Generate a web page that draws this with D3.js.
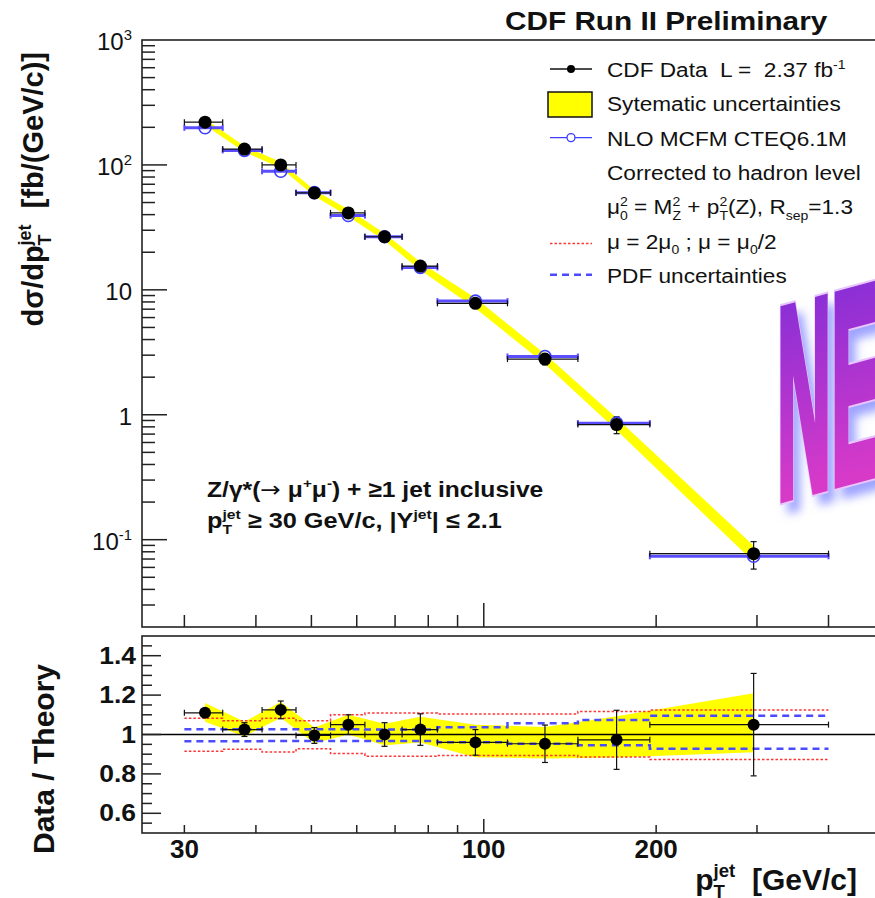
<!DOCTYPE html>
<html>
<head>
<meta charset="utf-8">
<script src="https://cdn.jsdelivr.net/npm/d3@7"></script>
<style>
body { margin: 0; background: #fff; }
svg { display: block; font-family: "Liberation Sans", Arial, Helvetica, sans-serif; }
text { white-space: pre; }
</style>
</head>
<body>
<script>
var W = 875, H = 898;

// jet pT bins [GeV/c] and the mean pT of each bin
var binEdges = [30, 35, 41, 47, 54, 62, 72, 83, 110, 146, 195, 400];
var ptCenter = [32.6, 38.2, 44.2, 50.6, 58.0, 67.1, 77.5, 96.7, 127.9, 170.6, 296];

// measured cross section dsigma/dpT [fb/(GeV/c)]
var xsec = [220, 134, 100, 59.7, 41.3, 26.6, 15.5, 7.8, 2.79, 0.834, 0.0773];

// data / theory and its statistical error
var ratio     = [1.11, 1.025, 1.125, 0.995, 1.05, 1.0, 1.025, 0.96, 0.953, 0.973, 1.05];
var ratioStat = [0.02, 0.035, 0.045, 0.04, 0.05, 0.06, 0.08, 0.065, 0.095, 0.15, 0.26];

// systematic band (absolute, in ratio units)
var sysUp = [0.05, 0.04, 0.04, 0.04, 0.05, 0.055, 0.065, 0.09, 0.085, 0.12, 0.16];
var sysDn = [0.045, 0.035, 0.04, 0.04, 0.05, 0.055, 0.065, 0.075, 0.075, 0.09, 0.14];
var lumiUnc = 0.04;

// theory uncertainties relative to NLO
var scaleUp = [1.082, 1.07, 1.082, 1.07, 1.10, 1.109, 1.109, 1.104, 1.104, 1.117, 1.124];
var scaleDn = [0.915, 0.925, 0.911, 0.928, 0.903, 0.889, 0.889, 0.894, 0.894, 0.886, 0.873];
var pdfUp   = [1.027, 1.027, 1.027, 1.027, 1.027, 1.025, 1.025, 1.037, 1.057, 1.074, 1.095];
var pdfDn   = [0.966, 0.966, 0.967, 0.967, 0.967, 0.967, 0.967, 0.961, 0.953, 0.945, 0.928];

var xLabelTicks = [30, 100, 200];
var yMainTicks = [0.1, 1, 10, 100, 1000];
var yMainLabels = [['10', {sup: '-1'}], ['1'], ['10'], ['10', {sup: '2'}], ['10', {sup: '3'}]];
var yRatioTicks = [0.6, 0.8, 1, 1.2, 1.4];
var yRatioLabels = ['0.6', '0.8', '1', '1.2', '1.4'];

var legendRows = [
    ['CDF Data  L =  2.37 fb', {sup: '-1'}],
    ['Sytematic uncertainties'],
    ['NLO MCFM CTEQ6.1M'],
    ['Corrected to hadron level'],
    ['\u03bc', {sub: '0', sup: '2'}, ' = M', {sub: 'Z', sup: '2'}, ' + p', {sub: 'T', sup: '2'}, '(Z), R', {sub: 'sep'}, '=1.3'],
    ['\u03bc = 2\u03bc', {sub: '0'}, ' ; \u03bc = \u03bc', {sub: '0'}, '/2'],
    ['PDF uncertainties']
];

var BLUE = '#3d3dff', RED = '#ff3535', INK = '#111';

var svg = d3.select('body').append('svg')
    .attr('width', W)
    .attr('height', H);

var x  = d3.scaleLog().domain([25.3, 500]).range([142, 884]);
var y  = d3.scaleLog().domain([0.02, 1000]).range([627, 40]);
var yr = d3.scaleLinear().domain([0.5, 1.5]).range([833, 636]);

var rows = ptCenter.map(function(pt, i){
    var tot = Math.sqrt(Math.pow(sysUp[i] / ratio[i], 2) + lumiUnc * lumiUnc);
    var totDn = Math.sqrt(Math.pow(sysDn[i] / ratio[i], 2) + lumiUnc * lumiUnc);
    return {
        pt: pt, lo: binEdges[i], hi: binEdges[i + 1],
        data: xsec[i], theory: xsec[i] / ratio[i],
        err: xsec[i] * ratioStat[i] / ratio[i],
        r: ratio[i], rErr: ratioStat[i],
        bandHi: xsec[i] * (1 + tot), bandLo: xsec[i] * (1 - totDn),
        rHi: ratio[i] + sysUp[i], rLo: ratio[i] - sysDn[i]
    };
});

// text with sub/superscripts; {t, font} pieces switch font family
function rich(t, parts, fs){
    var shift = 0, pad = 0;
    parts.forEach(function(p){
        if (typeof p === 'string' || p.t) {
            var s0 = t.append('tspan').attr('dx', pad).attr('dy', -shift).text(p.t || p);
            if (p.font) s0.attr('font-family', p.font).attr('font-weight', 'normal');
            shift = 0; pad = 0;
            return;
        }
        var sw = 0, pw = 0, s = 0.62 * fs;
        if (p.sub) {
            var a = t.append('tspan').attr('dx', pad).attr('dy', 0.28 * fs - shift)
                .attr('font-size', s).text(p.sub);
            shift = 0.28 * fs; pad = 0;
            sw = a.node().getComputedTextLength();
        }
        if (p.sup) {
            var b = t.append('tspan').attr('dx', pad - sw).attr('dy', -0.42 * fs - shift)
                .attr('font-size', s).text(p.sup);
            shift = -0.42 * fs; pad = 0;
            pw = b.node().getComputedTextLength();
        }
        if (p.sub && p.sup && sw > pw) pad = sw - pw;
    });
}

function label(g, px, py, parts, o){
    o = o || {};
    var fs = o.size || 20;
    var tr = 'translate(' + px + ',' + py + ')';
    if (o.rotate) tr += ' rotate(' + o.rotate + ')';
    if (o.sx) tr += ' scale(' + o.sx + ',1)';
    var t = g.append('text')
        .attr('transform', tr)
        .attr('font-size', fs)
        .attr('font-weight', o.bold ? 'bold' : 'normal')
        .attr('text-anchor', o.anchor || 'start')
        .attr('fill', INK);
    rich(t, parts, fs);
    return t;
}

function seg(g, x1, y1, x2, y2, col, w){
    g.append('line')
        .attr('x1', x1).attr('y1', y1).attr('x2', x2).attr('y2', y2)
        .attr('stroke', col).attr('stroke-width', w);
}

// ---------- "NEW" sticker ----------
var defs = svg.append('defs');
var grad = defs.append('linearGradient').attr('id', 'newGrad')
    .attr('gradientUnits', 'userSpaceOnUse')
    .attr('x1', 0).attr('y1', -72).attr('x2', 0).attr('y2', 0);
grad.append('stop').attr('offset', '0%').attr('stop-color', '#8a2fd6');
grad.append('stop').attr('offset', '100%').attr('stop-color', '#d83ac8');
defs.append('filter').attr('id', 'soft')
    .attr('x', '-30%').attr('y', '-30%').attr('width', '160%').attr('height', '160%')
    .append('feGaussianBlur').attr('stdDeviation', 5);

var stickerTr = 'translate(777,499) skewY(-15) scale(0.75,2.71)';
function sticker(g, fill, stroke, sw, op){
    g.append('text').attr('font-size', 100).attr('font-weight', 'bold')
        .attr('fill', fill).attr('opacity', op || 1)
        .attr('stroke', stroke).attr('stroke-width', sw)
        .attr('stroke-linejoin', 'miter')
        .attr('vector-effect', 'non-scaling-stroke')
        .text('NEW');
}
sticker(svg.append('g').attr('transform', 'translate(7,10)').attr('filter', 'url(#soft)')
    .append('g').attr('transform', stickerTr), '#7f86ff', '#7f86ff', 9, 0.75);
var stk = svg.append('g').attr('transform', stickerTr);
sticker(stk, '#e9c6ff', '#e9c6ff', 11);
sticker(stk, 'url(#newGrad)', 'url(#newGrad)', 8);

// ---------- upper panel ----------
var upper = svg.append('g');

upper.append('path')
    .datum(rows)
    .attr('fill', '#ffff00')
    .attr('d', d3.area()
        .x(function(d){ return x(d.pt); })
        .y0(function(d){ return y(d.bandLo); })
        .y1(function(d){ return y(d.bandHi); }));

// theory horizontal bars
rows.forEach(function(d){
    var yy = y(d.theory);
    seg(upper, x(d.lo), yy, x(d.hi), yy, '#5a4cff', 3);
    seg(upper, x(d.lo), yy - 3, x(d.lo), yy + 3, '#5a4cff', 2);
    seg(upper, x(d.hi), yy - 3, x(d.hi), yy + 3, '#5a4cff', 2);
});
// data error bars
rows.forEach(function(d){
    var yy = y(d.data), xx = x(d.pt);
    seg(upper, x(d.lo), yy, x(d.hi), yy, INK, 1.2);
    seg(upper, x(d.lo), yy - 3, x(d.lo), yy + 3, INK, 1.2);
    seg(upper, x(d.hi), yy - 3, x(d.hi), yy + 3, INK, 1.2);
    var y1 = y(d.data + d.err), y2 = y(d.data - d.err);
    seg(upper, xx, y1, xx, y2, INK, 1.2);
    seg(upper, xx - 3, y1, xx + 3, y1, INK, 1.2);
    seg(upper, xx - 3, y2, xx + 3, y2, INK, 1.2);
});
upper.selectAll('circle.theory')
    .data(rows)
    .enter()
    .append('circle')
        .attr('class', 'theory')
        .attr('cx', function(d){ return x(d.pt); })
        .attr('cy', function(d){ return y(d.theory); })
        .attr('r', 6)
        .attr('fill', 'none')
        .attr('stroke', BLUE)
        .attr('stroke-width', 1.6);
upper.selectAll('circle.data')
    .data(rows)
    .enter()
    .append('circle')
        .attr('class', 'data')
        .attr('cx', function(d){ return x(d.pt); })
        .attr('cy', function(d){ return y(d.data); })
        .attr('r', 6.5)
        .attr('fill', '#000');

// frame + ticks
upper.append('rect')
    .attr('x', 142).attr('y', 40).attr('width', 884 - 142).attr('height', 627 - 40)
    .attr('fill', 'none').attr('stroke', '#222').attr('stroke-width', 1.6);

y.ticks().forEach(function(v){
    var major = yMainTicks.indexOf(v) >= 0;
    var yy = y(v);
    if (yy < 41 || yy > 626) return;
    seg(upper, 142, yy, 142 + (major ? 25 : 13), yy, '#222', 1.5);
});
yMainTicks.forEach(function(v, i){
    label(upper, 132, y(v) + 10, yMainLabels[i], {size: 24, anchor: 'end'});
});
x.ticks().forEach(function(v){
    var xx = x(v);
    if (xx > 880) return;
    var major = (v === 100);
    seg(upper, xx, 627, xx, 627 - (major ? 24 : 12), '#222', 1.5);
});

// ---------- ratio panel ----------
var lower = svg.append('g');

lower.append('path')
    .datum(rows)
    .attr('fill', '#ffff00')
    .attr('d', d3.area()
        .x(function(d){ return x(d.pt); })
        .y0(function(d){ return yr(d.rLo); })
        .y1(function(d){ return yr(d.rHi); }));

function steps(vals){
    var pts = vals.map(function(v, i){ return [binEdges[i], v]; });
    pts.push([binEdges[binEdges.length - 1], vals[vals.length - 1]]);
    return d3.line()
        .x(function(p){ return x(p[0]); })
        .y(function(p){ return yr(p[1]); })
        .curve(d3.curveStepAfter)(pts);
}
[scaleUp, scaleDn].forEach(function(v){
    lower.append('path').attr('d', steps(v))
        .attr('fill', 'none').attr('stroke', RED)
        .attr('stroke-width', 1.5).attr('stroke-dasharray', '2.5,2');
});
[pdfUp, pdfDn].forEach(function(v){
    lower.append('path').attr('d', steps(v))
        .attr('fill', 'none').attr('stroke', '#4b4bff')
        .attr('stroke-width', 2.5).attr('stroke-dasharray', '7,5');
});

seg(lower, 142, yr(1), 884, yr(1), '#000', 1.3);

rows.forEach(function(d){
    var yy = yr(d.r), xx = x(d.pt);
    seg(lower, x(d.lo), yy, x(d.hi), yy, INK, 1.2);
    seg(lower, x(d.lo), yy - 3, x(d.lo), yy + 3, INK, 1.2);
    seg(lower, x(d.hi), yy - 3, x(d.hi), yy + 3, INK, 1.2);
    var y1 = yr(d.r + d.rErr), y2 = yr(d.r - d.rErr);
    seg(lower, xx, y1, xx, y2, INK, 1.2);
    seg(lower, xx - 3, y1, xx + 3, y1, INK, 1.2);
    seg(lower, xx - 3, y2, xx + 3, y2, INK, 1.2);
});
lower.selectAll('circle')
    .data(rows)
    .enter()
    .append('circle')
        .attr('cx', function(d){ return x(d.pt); })
        .attr('cy', function(d){ return yr(d.r); })
        .attr('r', 6)
        .attr('fill', '#000');

lower.append('rect')
    .attr('x', 142).attr('y', 636).attr('width', 884 - 142).attr('height', 833 - 636)
    .attr('fill', 'none').attr('stroke', '#222').attr('stroke-width', 1.6);

d3.range(0.55, 1.5, 0.05).forEach(function(v){
    v = Math.round(v * 100) / 100;
    var major = yRatioTicks.indexOf(v) >= 0;
    seg(lower, 142, yr(v), 142 + (major ? 19 : 10), yr(v), '#222', 1.5);
});
yRatioTicks.forEach(function(v, i){
    label(lower, 136, yr(v) + 8, [yRatioLabels[i]], {size: 23, bold: true, anchor: 'end', sx: 1.15});
});
x.ticks().forEach(function(v){
    var xx = x(v);
    if (xx > 880) return;
    var major = (v === 100);
    seg(lower, xx, 833, xx, 833 - (major ? 14 : 8), '#222', 1.5);
});
xLabelTicks.forEach(function(v){
    label(lower, x(v), 858, [String(v)], {size: 26, bold: true, anchor: 'middle'});
});

// ---------- titles ----------
label(svg, 505, 30, ['CDF Run II Preliminary'], {size: 25, bold: true, sx: 1.19});
label(svg, 43, 52, ['d\u03c3/dp', {sub: 'T', sup: 'jet'}, '  [fb/(GeV/c)]'],
    {size: 29, bold: true, rotate: -90, anchor: 'end'});
label(svg, 54, 759, ['Data / Theory'], {size: 30, bold: true, rotate: -90, anchor: 'middle'});
label(svg, 857, 890, ['p', {sub: 'T', sup: 'jet'}, '  [GeV/c]'], {size: 30, bold: true, anchor: 'end'});

label(svg, 207, 497, ['Z/\u03b3*(', {t: '\u2192', font: 'DejaVu Sans'}, ' \u03bc', {sup: '+'}, '\u03bc', {sup: '-'}, ') + \u22651 jet inclusive'],
    {size: 22, bold: true, sx: 1.12});
label(svg, 207, 528, ['p', {sub: 'T', sup: 'jet'}, ' \u2265 30 GeV/c, |Y', {sup: 'jet'}, '| \u2264 2.1'],
    {size: 22, bold: true, sx: 1.15});

// ---------- legend ----------
var leg = svg.append('g');
legendRows.forEach(function(parts, i){
    label(leg, 607, 77 + i * 34.3, parts, {size: 19.5, sx: 1.16});
});
var rowY = function(i){ return 77 + i * 34.3 - 8; };
seg(leg, 550, rowY(0), 592, rowY(0), INK, 1.3);
leg.append('circle').attr('cx', 571).attr('cy', rowY(0)).attr('r', 4).attr('fill', '#000');
leg.append('rect').attr('x', 548).attr('y', 92).attr('width', 44).attr('height', 25)
    .attr('fill', '#ffff00').attr('stroke', '#111').attr('stroke-width', 1.5);
seg(leg, 550, rowY(2), 592, rowY(2), BLUE, 1.3);
leg.append('circle').attr('cx', 571).attr('cy', rowY(2)).attr('r', 4)
    .attr('fill', '#fff').attr('stroke', BLUE).attr('stroke-width', 1.3);
leg.append('line').attr('x1', 550).attr('x2', 592).attr('y1', rowY(5) + 3).attr('y2', rowY(5) + 3)
    .attr('stroke', RED).attr('stroke-width', 1.5).attr('stroke-dasharray', '2.5,2');
leg.append('line').attr('x1', 550).attr('x2', 592).attr('y1', rowY(6)).attr('y2', rowY(6))
    .attr('stroke', '#4b4bff').attr('stroke-width', 2.5).attr('stroke-dasharray', '7,5');
</script>
</body>
</html>
